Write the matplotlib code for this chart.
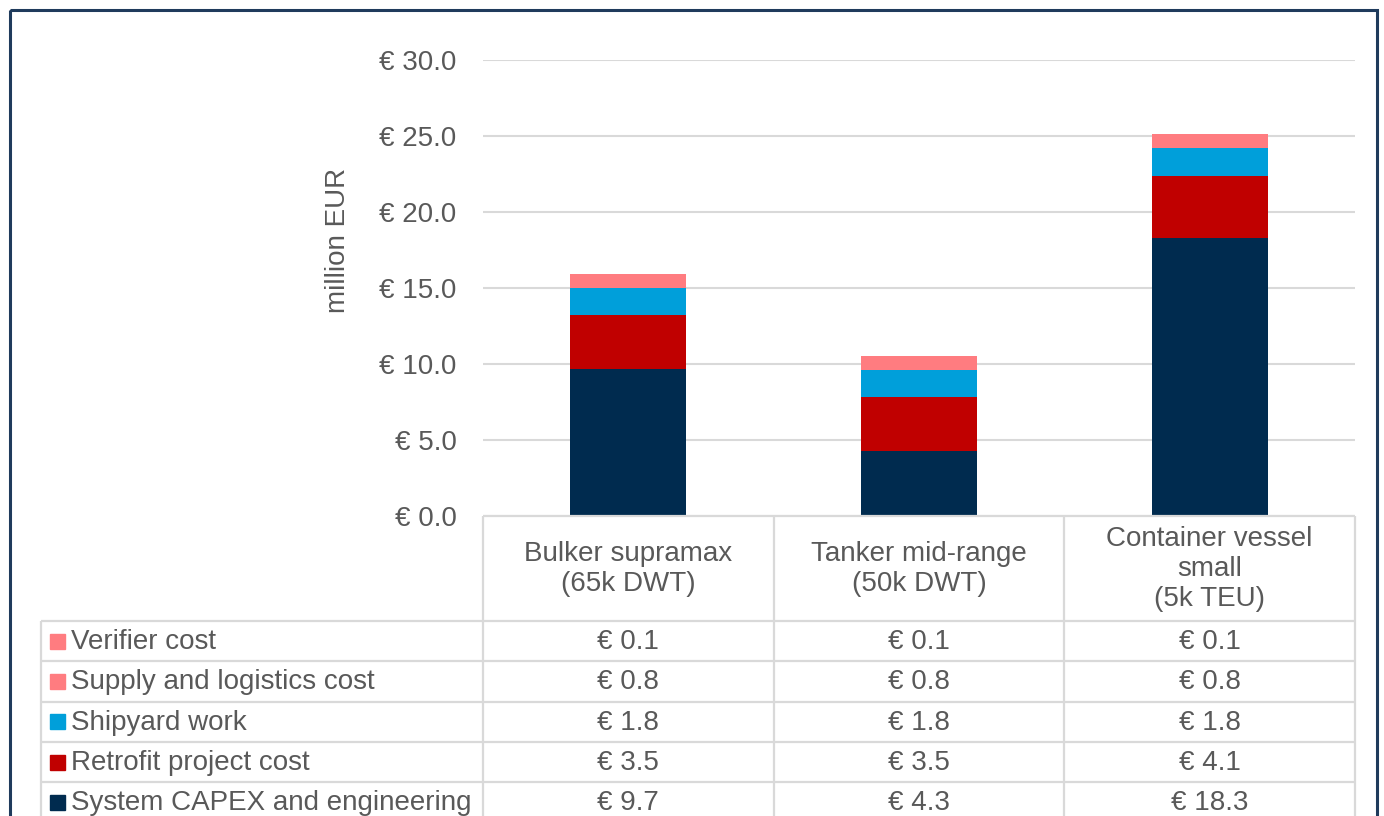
import matplotlib
matplotlib.use("Agg")
import matplotlib.pyplot as plt
from matplotlib.patches import Rectangle

plt.rcParams['font.family'] = ['Liberation Sans', 'DejaVu Sans']

# ─── Data ─────────────────────────────────────────────────────────────────────
categories = ['Bulker supramax\n(65k DWT)',
              'Tanker mid-range\n(50k DWT)',
              'Container vessel\nsmall\n(5k TEU)']
series = ['System CAPEX and engineering', 'Retrofit project cost',
          'Shipyard work', 'Supply and logistics cost', 'Verifier cost']
capex    = [9.7, 4.3, 18.3]
retrofit = [3.5, 3.5, 4.1]
shipyard = [1.8, 1.8, 1.8]
supply   = [0.8, 0.8, 0.8]
verifier = [0.1, 0.1, 0.1]
values = [capex, retrofit, shipyard, supply, verifier]
colors = ['#002B4F', '#C00000', '#009FDA', '#FF7C80', '#FF7C80']
yticks = [0, 5, 10, 15, 20, 25, 30]

TXT = '#595959'
GRID = '#D9D9D9'
W, H = 1384, 816

fig = plt.figure(figsize=(W / 100, H / 100), dpi=100)

# ─── Chart area (pixel geometry) ──────────────────────────────────────────────
ax_l, ax_r, ax_t, ax_b = 483, 1355, 60, 516
ax = fig.add_axes([ax_l / W, 1 - ax_b / H, (ax_r - ax_l) / W, (ax_b - ax_t) / H])
x = list(range(len(categories)))
bottom = [0.0] * len(categories)
for vals, col in zip(values, colors):
    ax.bar(x, vals, 0.4, bottom=bottom, color=col, zorder=3)
    bottom = [b + v for b, v in zip(bottom, vals)]
ax.set_xlim(-0.5, len(categories) - 0.5)
ax.set_ylim(0, 30)
ax.set_yticks(yticks)
ax.set_yticklabels([f'€ {t:.1f}' for t in yticks], fontsize=20, color=TXT)
ax.tick_params(axis='y', length=0, pad=19)
ax.set_xticks([])
ax.yaxis.grid(True, color=GRID, linewidth=1.5, zorder=0)
for s in ax.spines.values():
    s.set_visible(False)
ax.set_ylabel('million EUR', fontsize=20, color=TXT, va='center')
ax.yaxis.set_label_coords((338 - ax_l) / (ax_r - ax_l), (ax_b - 240) / (ax_b - ax_t))

# ─── Data table + frame overlay (pixel coordinates) ──────────────────────────
ov = fig.add_axes([0, 0, 1, 1], zorder=5)
ov.set_xlim(0, W)
ov.set_ylim(H, 0)
ov.axis('off')
ov.patch.set_alpha(0)

col_w = (ax_r - ax_l) / len(categories)
col_edges = [ax_l + i * col_w for i in range(len(categories) + 1)]
tbl_l = 41
row_top = 621
row_h = 40.3
n_rows = len(series)
row_lines = [row_top + i * row_h for i in range(n_rows + 1)]

lk = dict(color=GRID, linewidth=1.6, solid_capstyle='butt')
ov.plot([ax_l, ax_r], [ax_b, ax_b], **lk)
for xe in col_edges:
    ov.plot([xe, xe], [ax_b, H + 5], **lk)
ov.plot([tbl_l, tbl_l], [row_top, H + 5], **lk)
for yl in row_lines:
    ov.plot([tbl_l, ax_r], [yl, yl], **lk)

# header cells
for i, cat in enumerate(categories):
    cx = (col_edges[i] + col_edges[i + 1]) / 2
    ov.text(cx, 569, cat, ha='center', va='center', fontsize=20,
            color=TXT, linespacing=1.22)

# rows, top to bottom: reversed series order (legend order)
for r, idx in enumerate(reversed(range(n_rows))):
    cy = row_top + (r + 0.5) * row_h
    ov.add_patch(Rectangle((50, cy - 7.5), 15, 15, color=colors[idx]))
    ov.text(71, cy + 1, series[idx], ha='left', va='center', fontsize=20, color=TXT)
    for i, v in enumerate(values[idx]):
        cx = (col_edges[i] + col_edges[i + 1]) / 2
        ov.text(cx, cy + 1, f'€ {v:.1f}', ha='center', va='center',
                fontsize=20, color=TXT)

# outer frame
ov.add_patch(Rectangle((10, 10), 1367, H + 20, fill=False,
                       edgecolor='#1F3B5C', linewidth=2.2))

fig.savefig('out.png', dpi=100)
